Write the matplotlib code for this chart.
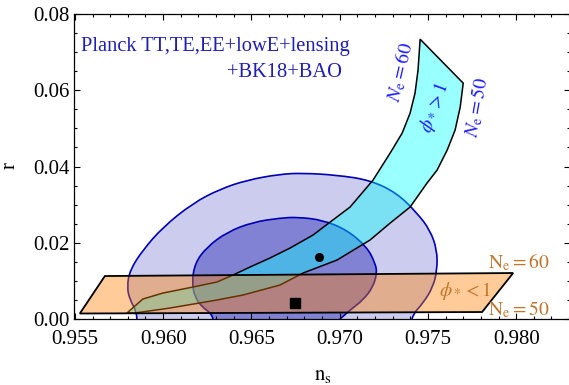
import matplotlib
matplotlib.use("Agg")
import matplotlib.pyplot as plt
from matplotlib.ticker import MultipleLocator, FormatStrFormatter
from matplotlib.path import Path
from matplotlib.patches import PathPatch

plt.rcParams['font.family'] = ['Liberation Serif', 'DejaVu Serif']
plt.rcParams['mathtext.fontset'] = 'stix'

# ---- data ----
# Planck TT,TE,EE+lowE+lensing+BK18+BAO 95% contour (open curve, ends at r=0)
c95_ns = [0.95851, 0.95851, 0.95812, 0.95795, 0.95812, 0.95885, 0.95999, 0.96169,
          0.96322, 0.96475, 0.96662, 0.96793, 0.96985, 0.97172, 0.97325, 0.97439,
          0.97512, 0.97552, 0.97552, 0.97529, 0.97473, 0.97416, 0.97410]
c95_r = [0.0, 0.00183, 0.00498, 0.00839, 0.01284, 0.01808, 0.02411, 0.03040,
         0.03407, 0.03643, 0.03800, 0.03827, 0.03774, 0.03643, 0.03302, 0.02778,
         0.02333, 0.01808, 0.01284, 0.00839, 0.00419, 0.00131, 0.0]
# 68% contour
c68_ns = [0.96282, 0.96277, 0.96220, 0.96180, 0.96163, 0.96180, 0.96248, 0.96362,
          0.96509, 0.96662, 0.96759, 0.96906, 0.97042, 0.97155, 0.97201, 0.97212,
          0.97189, 0.97133, 0.97059, 0.97002]
c68_r = [0.0, 0.00131, 0.00315, 0.00577, 0.00944, 0.01468, 0.01887, 0.02280,
         0.02542, 0.02647, 0.02673, 0.02595, 0.02333, 0.01887, 0.01468, 0.01206,
         0.00839, 0.00498, 0.00236, 0.0]

# phi_* > 1 band: N_e = 60 edge and N_e = 50 edge (top to bottom)
ne60_ns = [0.97456, 0.97444, 0.97427, 0.97399, 0.97354, 0.97286, 0.97189, 0.97059,
           0.96946, 0.96849, 0.96719, 0.96605, 0.96492, 0.96396, 0.96305, 0.96169,
           0.95999, 0.95885, 0.95795]
ne60_r = [0.07339, 0.06526, 0.05923, 0.05399, 0.04875, 0.04351, 0.03643, 0.02936,
          0.02542, 0.02202, 0.01861, 0.01599, 0.01363, 0.01153, 0.00970, 0.00839,
          0.00681, 0.00524, 0.00157]
ne50_ns = [0.97700, 0.97683, 0.97654, 0.97609, 0.97552, 0.97495, 0.97399, 0.97286,
           0.97172, 0.96985, 0.96793, 0.96662, 0.96452, 0.96305, 0.96039, 0.95840]
ne50_r = [0.06186, 0.05557, 0.04954, 0.04429, 0.03905, 0.03565, 0.02936, 0.02516,
          0.02071, 0.01546, 0.01206, 0.00891, 0.00629, 0.00498, 0.00288, 0.00157]

# phi_* < 1 parallelogram
para_ns = [0.95528, 0.97807, 0.97983, 0.95670]
para_r = [0.00144, 0.00183, 0.01206, 0.01127]

# marked points
dot_ns, dot_r = [0.96883], [0.01625]
sq_ns, sq_r = [0.96747], [0.00419]

xticks = [0.955, 0.960, 0.965, 0.970, 0.975, 0.980]
yticks = [0.00, 0.02, 0.04, 0.06, 0.08]


def smooth_path(xs, ys):
    """Quadratic-Bezier path using the read points as control points."""
    pts = list(zip(xs, ys))
    verts = [pts[0]]
    codes = [Path.MOVETO]
    for i in range(1, len(pts) - 1):
        mid = ((pts[i][0] + pts[i + 1][0]) / 2, (pts[i][1] + pts[i + 1][1]) / 2)
        if i == len(pts) - 2:
            mid = pts[-1]
        verts += [pts[i], mid]
        codes += [Path.CURVE3, Path.CURVE3]
    return verts, codes


# ---- figure ----
fig = plt.figure(figsize=(5.69, 3.85), dpi=100)
ax = fig.add_axes([74/569, 1-319/385, 496/569, 305/385])

outer_fc = '#ccccee'
inner_fc = '#8282d4'
edge_c = '#0000b4'

for xs, ys, fc, z in [(c95_ns, c95_r, outer_fc, 1), (c68_ns, c68_r, inner_fc, 1.2)]:
    v, c = smooth_path(xs, ys)
    ax.add_patch(PathPatch(Path(v + [v[0]], c + [Path.CLOSEPOLY]), facecolor=fc,
                           edgecolor='none', zorder=z))
    ax.add_patch(PathPatch(Path(v, c), facecolor='none', edgecolor=edge_c,
                           lw=1.2, zorder=z + 0.1))

band_ns = ne60_ns + ne50_ns[::-1]
band_r = ne60_r + ne50_r[::-1]
ax.fill(band_ns, band_r, facecolor=(0, 1, 1, 0.4), edgecolor='black', lw=1.1, zorder=2)

ax.fill(para_ns, para_r, facecolor=(1, 0.5, 0, 0.4), edgecolor='black', lw=1.3, zorder=3)

ax.plot(dot_ns, dot_r, 'o', color='black', ms=5.5, zorder=5)
ax.plot(sq_ns, sq_r, 's', color='black', ms=6.5, zorder=5)

# ---- axes ----
ax.set_xlim(0.95495, 0.98305)
ax.set_ylim(0, 0.08)
ax.set_xticks(xticks)
ax.set_yticks(yticks)
ax.xaxis.set_major_formatter(FormatStrFormatter('%.3f'))
ax.yaxis.set_major_formatter(FormatStrFormatter('%.2f'))
ax.xaxis.set_minor_locator(MultipleLocator(0.001))
ax.yaxis.set_minor_locator(MultipleLocator(0.005))
ax.tick_params(which='both', direction='in', top=True, right=True, width=0.8)
ax.tick_params(which='major', length=4, labelsize=15)
ax.tick_params(which='minor', length=2.3)
ax.tick_params(axis='x', pad=8)
ax.tick_params(axis='y', pad=3)
for s in ax.spines.values():
    s.set_linewidth(0.9)

ax.set_xlabel(r'$\mathrm{n_s}$', fontsize=15, va='center')
ax.xaxis.set_label_coords(0.502, -0.184)
ax.set_ylabel('r', fontsize=15, va='center')
ax.yaxis.set_label_coords(-0.129, 0.502)

# ---- annotations ----
blue_dark = '#1e1eb4'
ax.text(0.0141, 0.895, 'Planck TT,TE,EE+lowE+lensing', transform=ax.transAxes,
        ha='left', va='center', fontsize=14.8, color=blue_dark)
ax.text(0.540, 0.807, '+BK18+BAO', transform=ax.transAxes,
        ha='right', va='center', fontsize=14.8, color=blue_dark)

ax.text(0.97345, 0.06474, r'$N_\mathrm{e}=60$', rotation=77, ha='center', va='center',
        fontsize=14, color='#1a1aff', rotation_mode='anchor')
ax.text(0.97780, 0.05557, r'$N_\mathrm{e}=50$', rotation=80, ha='center', va='center',
        fontsize=14, color='#1a1aff', rotation_mode='anchor')
ax.text(0.97540, 0.05557, r'$\phi_* > 1$', rotation=70, ha='center', va='center',
        fontsize=14, color='#1a1aff', rotation_mode='anchor')

orange_t = '#c0742c'
ax.text(0.97841, 0.01337, r'$\mathrm{N_e}=60$', ha='left', va='baseline',
        fontsize=14, color=orange_t)
ax.text(0.97841, 0.00105, r'$\mathrm{N_e}=50$', ha='left', va='baseline',
        fontsize=14, color=orange_t)
ax.text(0.97711, 0.00734, r'$\phi_* < 1$', ha='center', va='center',
        fontsize=14, color=orange_t)

fig.savefig('out.png', dpi=100)
